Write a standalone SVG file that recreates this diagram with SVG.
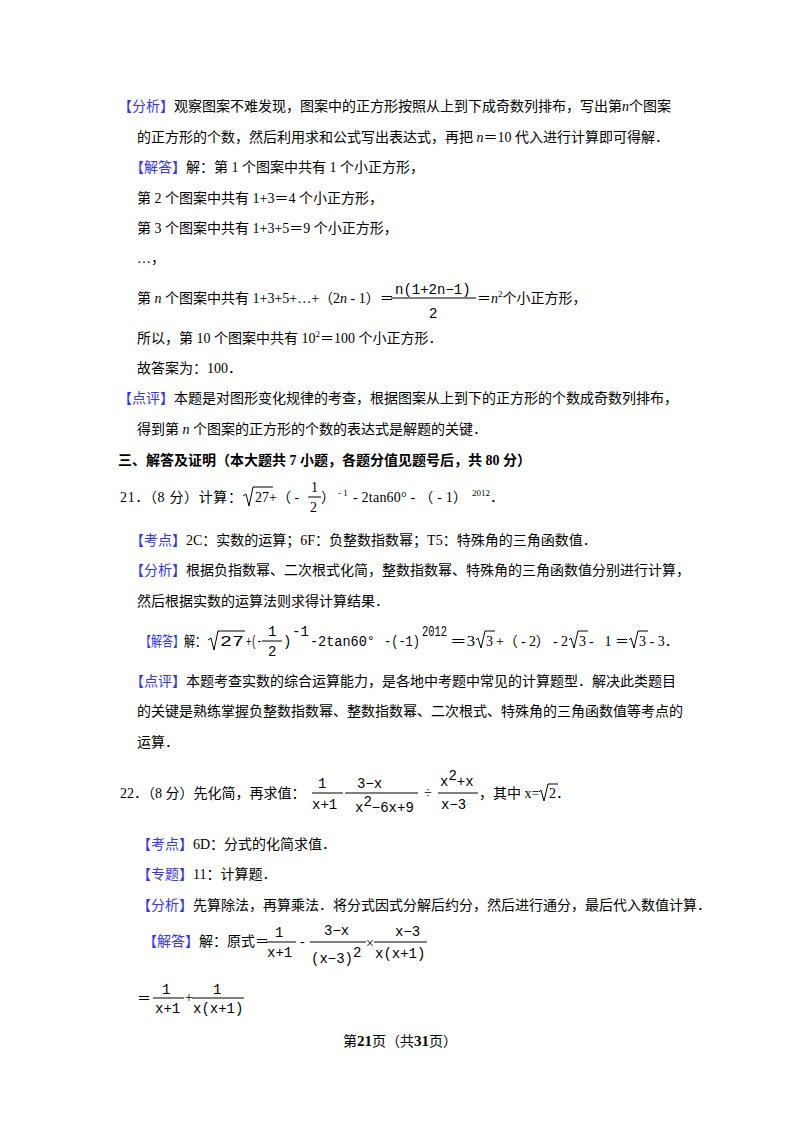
<svg xmlns="http://www.w3.org/2000/svg" width="800" height="1132" viewBox="0 0 800 1132">
<style>
text{font-family:"Liberation Serif","Noto Sans CJK SC",serif;font-size:14px;fill:#000}
.b{fill:#3333ff}
.m{font-family:"Liberation Mono","Noto Sans CJK SC",monospace;font-size:14px}
.s{font-size:9px}
.bold{font-weight:bold}
line{stroke:#000;stroke-width:1}
path{fill:none;stroke:#000;stroke-width:1}
</style>
<rect width="800" height="1132" fill="#fff"/>
<text x="118" y="111"><tspan class="b">【分析】</tspan>观察图案不难发现，图案中的正方形按照从上到下成奇数列排布，写出第<tspan font-style="italic">n</tspan>个图案</text>
<text x="137" y="142">的正方形的个数，然后利用求和公式写出表达式，再把 <tspan font-style="italic">n</tspan>＝10 代入进行计算即可得解．</text>
<text x="130" y="172"><tspan class="b">【解答】</tspan>解：第 1 个图案中共有 1 个小正方形，</text>
<text x="137" y="203">第 2 个图案中共有 1+3＝4 个小正方形，</text>
<text x="137" y="233">第 3 个图案中共有 1+3+5＝9 个小正方形，</text>
<text x="137" y="263">…，</text>
<text x="137" y="303">第 <tspan font-style="italic">n</tspan> 个图案中共有 1+3+5+…+（2<tspan font-style="italic">n</tspan> - 1）＝</text>
<text x="395" y="294" class="m">n(1+2n−1)</text>
<line x1="391" y1="298" x2="476" y2="298"/>
<text x="429" y="318" class="m">2</text>
<text x="477" y="303">＝<tspan font-style="italic">n</tspan><tspan class="s" dy="-6">2</tspan><tspan dy="6">个小正方形，</tspan></text>
<text x="137" y="343">所以，第 10 个图案中共有 10<tspan class="s" dy="-6">2</tspan><tspan dy="6">＝100 个小正方形．</tspan></text>
<text x="137" y="373">故答案为：100．</text>
<text x="118" y="403"><tspan class="b">【点评】</tspan>本题是对图形变化规律的考查，根据图案从上到下的正方形的个数成奇数列排布，</text>
<text x="137" y="434">得到第 <tspan font-style="italic">n</tspan> 个图案的正方形的个数的表达式是解题的关键．</text>
<text x="118" y="465" class="bold">三、解答及证明（本大题共 7 小题，各题分值见题号后，共 80 分）</text>
<text x="120" y="502" textLength="122" lengthAdjust="spacing">21．（8 分）计算：</text>
<path d="M243 496 L246 494 L249 506 L253 487 L273 487"/>
<text x="255" y="502">27+（ -</text>
<text x="311" y="492">1</text>
<line x1="308" y1="497" x2="321" y2="497"/>
<text x="310" y="512">2</text>
<text x="321" y="502">）</text>
<text x="338" y="496" class="s">- 1</text>
<text x="353" y="502" textLength="114" lengthAdjust="spacing">- 2tan60° - （ - 1）</text>
<text x="472" y="496" class="s">2012</text>
<text x="490" y="502">．</text>
<text x="130" y="545"><tspan class="b">【考点】</tspan>2C：实数的运算；6F：负整数指数幂；T5：特殊角的三角函数值．</text>
<text x="130" y="575"><tspan class="b">【分析】</tspan>根据负指数幂、二次根式化简，整数指数幂、特殊角的三角函数值分别进行计算，</text>
<text x="137" y="606">然后根据实数的运算法则求得计算结果．</text>
<text x="140" y="646" textLength="66" lengthAdjust="spacingAndGlyphs"><tspan class="b">【解答】</tspan>解：</text>
<path d="M208 640 L211 638 L214 650 L218 631 L245 631"/>
<text x="220" y="646" class="m" textLength="24" lengthAdjust="spacingAndGlyphs">27</text>
<text x="246" y="646" class="m" textLength="16" lengthAdjust="spacingAndGlyphs">+(-</text>
<text x="268" y="636" class="m">1</text>
<line x1="262" y1="641" x2="282" y2="641"/>
<text x="268" y="656" class="m">2</text>
<text x="283" y="646" class="m">)</text>
<text x="292" y="636" class="m" font-size="11">-1</text>
<text x="310" y="646" class="m" textLength="65" lengthAdjust="spacingAndGlyphs">-2tan60°</text>
<text x="384" y="646" class="m" textLength="36" lengthAdjust="spacingAndGlyphs">-(-1)</text>
<text x="422" y="636" class="m" font-size="11" textLength="25" lengthAdjust="spacingAndGlyphs">2012</text>
<text x="450" y="646" textLength="25" lengthAdjust="spacingAndGlyphs">＝3</text>
<path d="M476 640 L478 638 L481 648 L485 631 L495 631"/>
<text x="486" y="646">3</text>
<text x="496" y="646" textLength="72" lengthAdjust="spacing">+（ - 2） - 2</text>
<path d="M569 640 L571 638 L574 648 L578 631 L588 631"/>
<text x="579" y="646">3</text>
<text x="589" y="646" textLength="40" lengthAdjust="spacing">- 1＝</text>
<path d="M629 640 L631 638 L634 648 L638 631 L648 631"/>
<text x="639" y="646">3 - 3．</text>
<text x="130" y="686"><tspan class="b">【点评】</tspan>本题考查实数的综合运算能力，是各地中考题中常见的计算题型．解决此类题目</text>
<text x="137" y="716">的关键是熟练掌握负整数指数幂、整数指数幂、二次根式、特殊角的三角函数值等考点的</text>
<text x="137" y="747">运算．</text>
<text x="120" y="798">22．（8 分）先化简，再求值：</text>
<text x="318" y="788" class="m">1</text>
<line x1="312" y1="793" x2="343" y2="793"/>
<text x="312" y="809" class="m" font-size="13">x+1</text>
<line x1="345" y1="793" x2="350" y2="793"/>
<text x="357" y="788" class="m" font-size="13">3−x</text>
<line x1="350" y1="793" x2="418" y2="793"/>
<text x="355" y="812" class="m" font-size="13">x<tspan dy="-6">2</tspan><tspan dy="6">−6x+9</tspan></text>
<text x="424" y="798">÷</text>
<text x="440" y="786" class="m" font-size="13">x<tspan dy="-6">2</tspan><tspan dy="6">+x</tspan></text>
<line x1="438" y1="793" x2="478" y2="793"/>
<text x="441" y="809" class="m" font-size="13">x−3</text>
<text x="479" y="798">，其中 x=</text>
<path d="M539 792 L541 790 L544 801 L548 784 L558 784"/>
<text x="549" y="798">2．</text>
<text x="137" y="849"><tspan class="b">【考点】</tspan>6D：分式的化简求值．</text>
<text x="137" y="879"><tspan class="b">【专题】</tspan>11：计算题．</text>
<text x="137" y="910"><tspan class="b">【分析】</tspan>先算除法，再算乘法．将分式因式分解后约分，然后进行通分，最后代入数值计算．</text>
<text x="143" y="946"><tspan class="b">【解答】</tspan>解：原式＝</text>
<text x="275" y="937" class="m">1</text>
<line x1="266" y1="942" x2="296" y2="942"/>
<text x="267" y="957" class="m" font-size="13">x+1</text>
<text x="300" y="946">-</text>
<text x="324" y="935" class="m" font-size="13">3−x</text>
<line x1="310" y1="942" x2="366" y2="942"/>
<text x="311" y="963" class="m" font-size="13">(x−3)<tspan dy="-6">2</tspan></text>
<text x="366" y="948" font-size="10">×</text>
<text x="395" y="936" class="m" font-size="13">x−3</text>
<line x1="374" y1="942" x2="427" y2="942"/>
<text x="375" y="958" class="m" font-size="13">x(x+1)</text>
<text x="137" y="1003">＝</text>
<text x="162" y="994" class="m">1</text>
<line x1="153" y1="998" x2="184" y2="998"/>
<text x="155" y="1013" class="m" font-size="13">x+1</text>
<text x="185" y="1002" font-size="10">+</text>
<text x="213" y="994" class="m">1</text>
<line x1="192" y1="998" x2="244" y2="998"/>
<text x="193" y="1013" class="m" font-size="13">x(x+1)</text>
<text x="400" y="1046" text-anchor="middle" font-size="13">第<tspan font-weight="bold" font-size="15">21</tspan>页（共<tspan font-weight="bold" font-size="15">31</tspan>页）</text>
</svg>
